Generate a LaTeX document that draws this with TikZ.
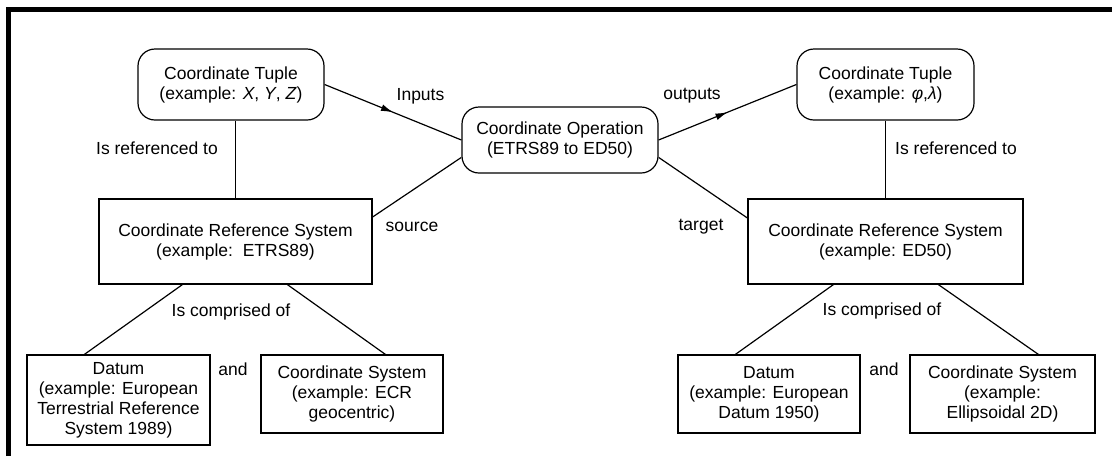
\documentclass[tikz,border=0pt]{standalone}
\usepackage{fontspec}
\setmainfont{Liberation Sans}
\usetikzlibrary{arrows.meta,decorations.markings}

\begin{document}
\begin{tikzpicture}[x=1pt,y=-1pt,line width=1.2pt,
  every node/.style={font=\fontsize{17.5}{20}\selectfont,align=center,inner sep=0pt},
  tuple/.style={draw,rounded corners=17pt},
  crs/.style={draw},
  mid arrow/.style={postaction={decorate},decoration={markings,
    mark=at position 0.5 with {\arrow{Latex[length=12pt,width=7pt]}}}}]
  \useasboundingbox (0,0) rectangle (1112,456);
  \draw[line width=5pt] (8.5,456) -- (8.5,9) -- (1112,9);

  \node[tuple,minimum width=186pt,minimum height=71pt] (tuple1) at (231,84.5) {Coordinate Tuple\\(example: \textit{X}, \textit{Y}, \textit{Z})};
  \node[tuple,minimum width=196pt,minimum height=66pt] (op) at (560,140) {Coordinate Operation\\(ETRS89 to ED50)};
  \node[tuple,minimum width=177pt,minimum height=71pt] (tuple2) at (885.5,84.5) {Coordinate Tuple\\(example: \textit{φ},\textit{λ})};
  \node[crs,minimum width=273pt,minimum height=85pt] (crs1) at (235.5,241.5) {Coordinate Reference System\\(example:\ \ ETRS89)};
  \node[crs,minimum width=275pt,minimum height=85pt] (crs2) at (885.5,241.5) {Coordinate Reference System\\(example: ED50)};
  \node[crs,minimum width=183pt,minimum height=90pt] (datum1) at (118.5,400) {Datum\\(example: European\\Terrestrial Reference\\System 1989)};
  \node[crs,minimum width=182pt,minimum height=78pt] (cs1) at (352,394) {Coordinate System\\(example: ECR\\geocentric)};
  \node[crs,minimum width=182pt,minimum height=78pt] (datum2) at (769,394) {Datum\\(example: European\\Datum 1950)};
  \node[crs,minimum width=185pt,minimum height=78pt] (cs2) at (1002.5,394) {Coordinate System\\(example:\\Ellipsoidal 2D)};

  % labels
  \node (inputs) at (420.5,96) {Inputs};
  \node (outputs) at (692,96) {outputs};
  \node (source) at (412,227) {source};
  \node (target) at (701,227) {target};
  \node (ref1) at (157,148) {Is referenced to};
  \node (ref2) at (956,148) {Is referenced to};
  \node (comp1) at (231,312) {Is comprised of};
  \node (comp2) at (882,311) {Is comprised of};
  \node (and1) at (233,369) {and};
  \node (and2) at (884,369) {and};

  \path (tuple1.east) edge[mid arrow] (op.west)
  (op.east) edge[mid arrow] (tuple2.west)
  (op.190) edge ([yshift=24.5pt]crs1.east)
  (op.350) edge ([yshift=23.5pt]crs2.west)
  (crs1.north) edge (crs1.north |- tuple1.south)
  (crs2.north) edge (crs2.north |- tuple2.south)
  ([xshift=84pt]crs1.south west) edge ([xshift=58pt]datum1.north west)
  ([xshift=189pt]crs1.south west) edge ([xshift=125pt]cs1.north west)
  ([xshift=86pt]crs2.south west) edge ([xshift=58pt]datum2.north west)
  ([xshift=191pt]crs2.south west) edge ([xshift=129pt]cs2.north west);
\end{tikzpicture}
\end{document}
